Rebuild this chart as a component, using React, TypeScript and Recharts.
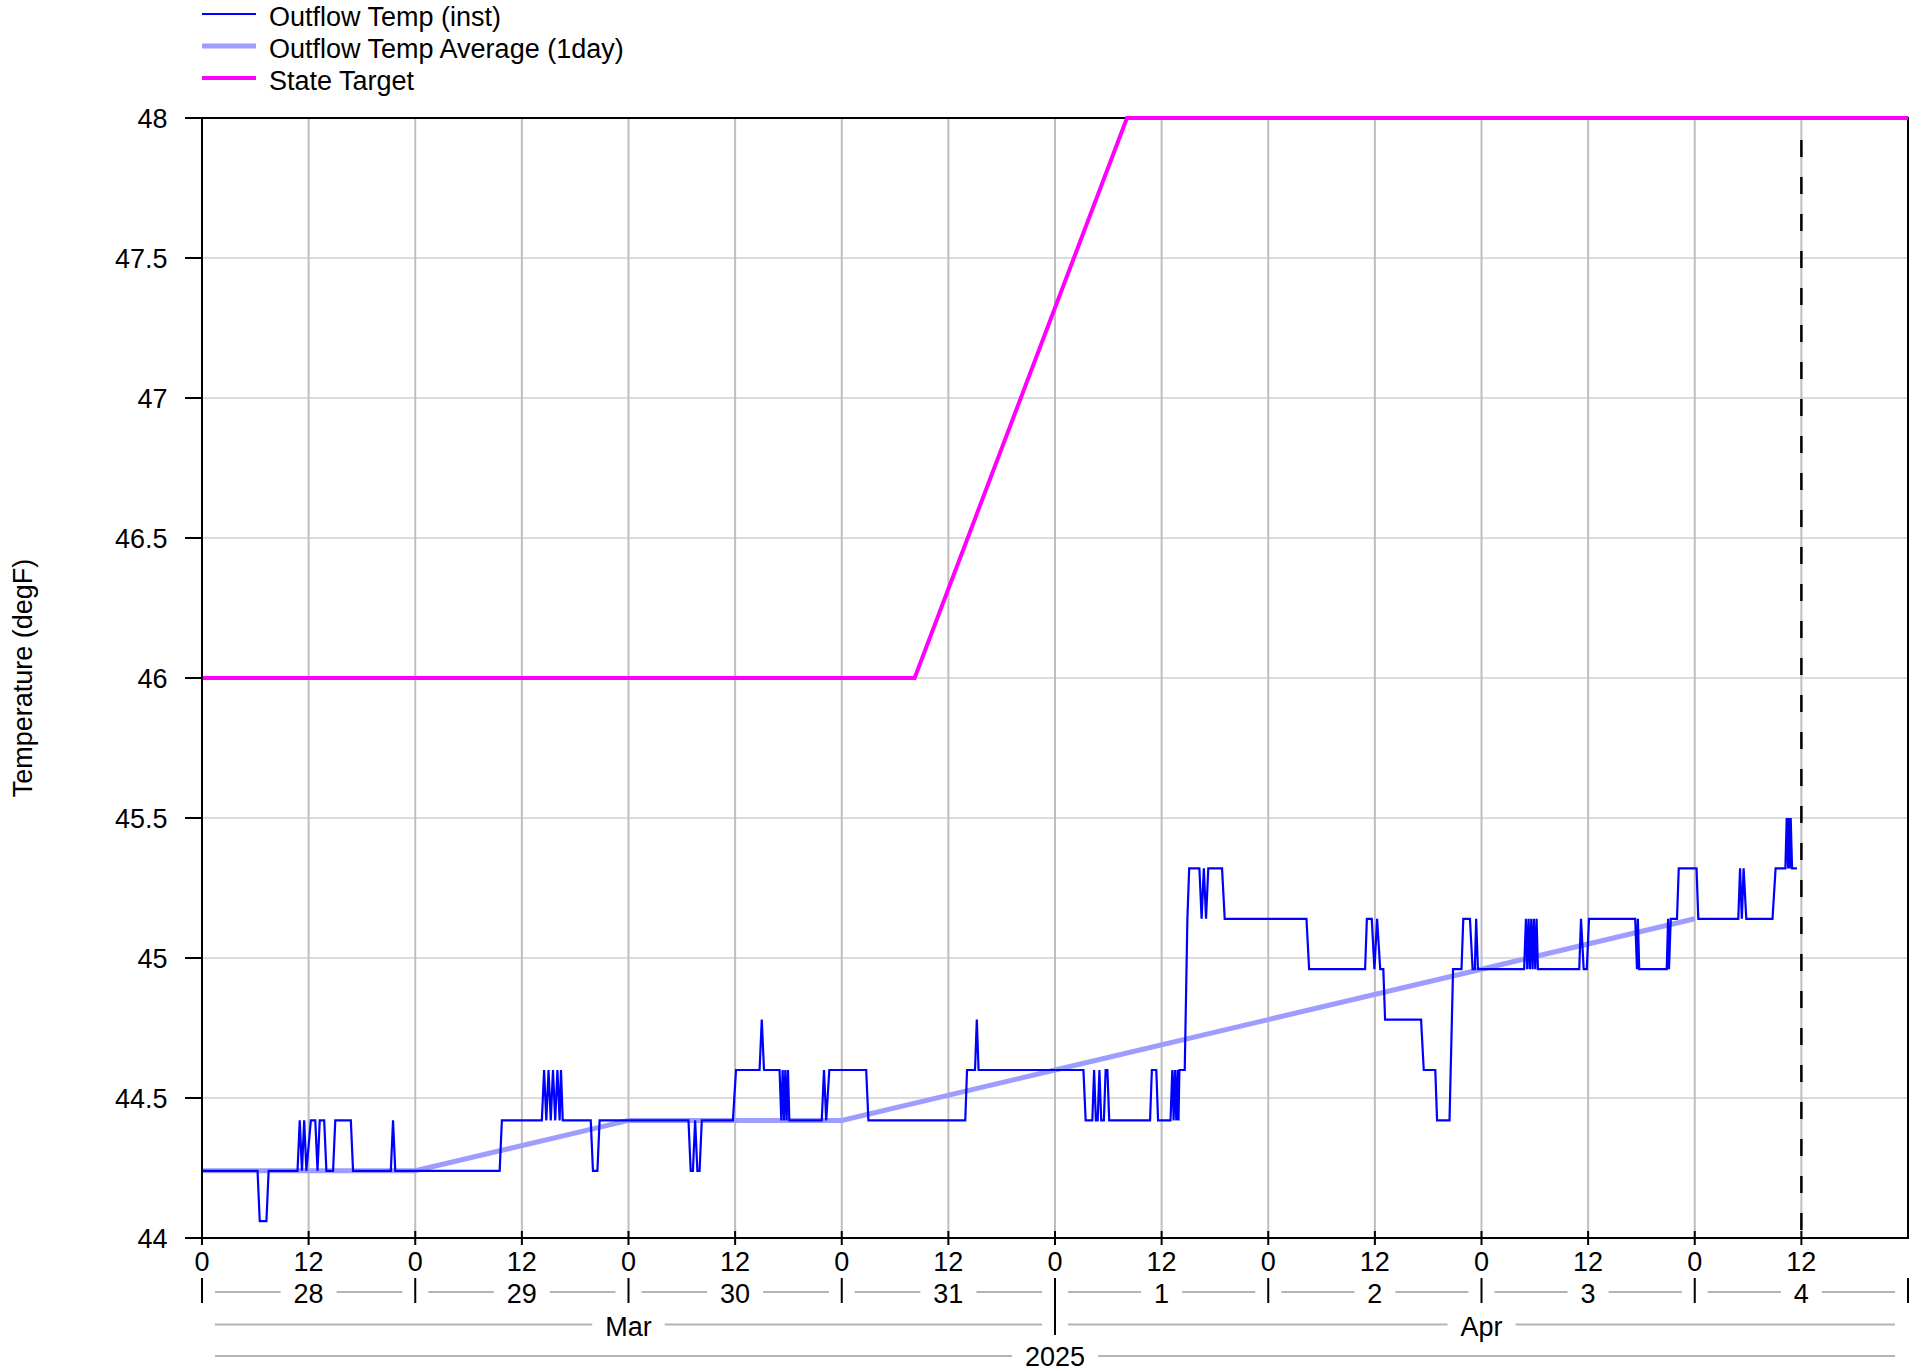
import React from "react";
import {
  LineChart,
  Line,
  XAxis,
  YAxis,
  CartesianGrid,
  ReferenceLine,
  ReferenceArea,
  Legend,
  Label,
} from "recharts";

// hours since 2025-03-28 00:00 -> degF
const instTemp: [number, number][] = [
  [0, 44.24], [6.25, 44.24], [6.5, 44.06], [7.25, 44.06], [7.5, 44.24],
  [10.75, 44.24], [11.0, 44.42], [11.25, 44.24], [11.5, 44.42], [11.75, 44.24],
  [12.25, 44.42], [12.75, 44.42], [13.0, 44.24], [13.25, 44.42], [13.75, 44.42], [14.0, 44.24],
  [14.75, 44.24], [15.0, 44.42], [16.75, 44.42], [17.0, 44.24],
  [21.25, 44.24], [21.5, 44.42], [21.75, 44.24],
  [33.5, 44.24], [33.75, 44.42],
  [38.25, 44.42], [38.5, 44.6], [38.75, 44.42], [39.0, 44.6], [39.25, 44.42], [39.5, 44.6],
  [39.75, 44.42], [40.0, 44.6], [40.25, 44.42], [40.4, 44.6], [40.6, 44.42],
  [43.75, 44.42], [44.0, 44.24], [44.5, 44.24], [44.75, 44.42],
  [54.75, 44.42], [55.0, 44.24], [55.25, 44.24], [55.5, 44.42], [55.75, 44.24], [56.0, 44.24], [56.25, 44.42],
  [59.75, 44.42], [60.1, 44.6],
  [62.75, 44.6], [63.0, 44.78], [63.25, 44.6],
  [65.0, 44.6], [65.2, 44.42], [65.35, 44.6], [65.5, 44.42], [65.65, 44.6], [65.8, 44.42],
  [65.95, 44.6], [66.1, 44.42],
  [69.75, 44.42], [70.0, 44.6], [70.25, 44.42], [70.6, 44.6],
  [74.75, 44.6], [75.0, 44.42],
  [85.9, 44.42], [86.1, 44.6],
  [87.0, 44.6], [87.2, 44.78], [87.4, 44.6],
  [99.2, 44.6], [99.45, 44.42], [100.2, 44.42], [100.4, 44.6], [100.6, 44.42], [100.8, 44.42],
  [101.0, 44.6], [101.2, 44.42], [101.5, 44.42], [101.7, 44.6], [101.9, 44.6], [102.1, 44.42],
  [106.7, 44.42], [106.9, 44.6], [107.4, 44.6], [107.6, 44.42], [109.0, 44.42], [109.2, 44.6],
  [109.35, 44.42], [109.5, 44.6], [109.65, 44.42], [109.8, 44.6], [109.9, 44.42], [110.0, 44.6],
  [110.6, 44.6], [110.9, 45.14], [111.1, 45.32],
  [112.25, 45.32], [112.5, 45.14], [112.75, 45.32], [113.0, 45.14], [113.25, 45.32],
  [114.8, 45.32], [115.1, 45.14],
  [124.3, 45.14], [124.6, 44.96],
  [130.9, 44.96], [131.1, 45.14], [131.65, 45.14], [131.95, 44.96], [132.25, 45.14], [132.6, 44.96],
  [132.95, 44.96], [133.15, 44.78],
  [137.2, 44.78], [137.5, 44.6], [138.8, 44.6], [139.0, 44.42], [140.4, 44.42], [140.8, 44.96],
  [141.75, 44.96], [141.95, 45.14], [142.7, 45.14], [143.0, 44.96], [143.25, 44.96], [143.4, 45.14],
  [143.6, 44.96],
  [148.8, 44.96], [149.0, 45.14], [149.15, 44.96], [149.3, 45.14], [149.45, 44.96], [149.6, 45.14],
  [149.75, 44.96], [149.9, 45.14], [150.05, 44.96], [150.2, 45.14], [150.35, 44.96],
  [155.0, 44.96], [155.2, 45.14], [155.5, 44.96], [155.85, 44.96], [156.1, 45.14],
  [161.3, 45.14], [161.5, 44.96], [161.6, 45.14], [161.75, 44.96],
  [164.85, 44.96], [165.0, 45.14], [165.1, 44.96], [165.3, 45.14], [166.0, 45.14], [166.2, 45.32],
  [168.2, 45.32], [168.4, 45.14],
  [172.9, 45.14], [173.1, 45.32], [173.3, 45.14], [173.5, 45.32], [173.8, 45.14],
  [176.75, 45.14], [177.1, 45.32],
  [178.2, 45.32], [178.35, 45.5], [178.5, 45.32], [178.6, 45.5], [178.7, 45.32], [178.8, 45.5],
  [178.95, 45.32], [179.5, 45.32],
];

const avgTemp: [number, number][] = [
  [0, 44.24], [24, 44.24], [48, 44.42], [72, 44.42], [96, 44.6], [120, 44.78], [144, 44.96], [168, 45.14],
];

const stateTarget: [number, number][] = [
  [0, 46], [80.2, 46], [104.1, 48], [192, 48],
];

const hourTicks = [0, 12, 24, 36, 48, 60, 72, 84, 96, 108, 120, 132, 144, 156, 168, 180, 192];
const dayLabels = ["28", "29", "30", "31", "1", "2", "3", "4"];
const monthLabels = [
  { name: "Mar", from: 0, to: 96 },
  { name: "Apr", from: 96, to: 192 },
];
const yearLabels = [{ name: "2025", from: 0, to: 192 }];
const tempTicks = [44, 44.5, 45, 45.5, 46, 46.5, 47, 47.5, 48];
const nowHour = 180;

const series = [
  { name: "Outflow Temp (inst)", color: "#0000ff", width: 2.2 },
  { name: "Outflow Temp Average (1day)", color: "#9d9dff", width: 5 },
  { name: "State Target", color: "#ff00ff", width: 4 },
];

const W = 1910;
const H = 1372;
const LEFT = 202;
const RIGHT = 2;
const TOP = 118;
const BOTTOM = 134;
const SPAN = 192;
const PPH = (W - LEFT - RIGHT) / SPAN;
const FONT = '"Liberation Sans", Arial, Helvetica, sans-serif';
const FS = 27;
const ROW_GRAY = "#b4b4b4";

const CHAR_W: Record<string, number> = { M: 0.833, a: 0.556, r: 0.333, A: 0.667, p: 0.556 };
const textW = (s: string) => [...s].reduce((w, c) => w + (CHAR_W[c] ?? 0.556), 0) * FS;

const toRows = (pts: [number, number][]) => pts.map(([t, v]) => ({ t, v }));

function Bracket({ cx, x0, x1, lineY, baseY, label }: any) {
  const half = textW(label) / 2;
  return (
    <g>
      <line x1={x0 + 13} x2={cx - half - 13} y1={lineY} y2={lineY} stroke={ROW_GRAY} strokeWidth={2} />
      <line x1={cx + half + 13} x2={x1 - 13} y1={lineY} y2={lineY} stroke={ROW_GRAY} strokeWidth={2} />
      <text x={cx} y={baseY} textAnchor="middle" fontSize={FS} fontFamily={FONT} fill="#000">
        {label}
      </text>
    </g>
  );
}

function TimeTick(props: any) {
  const { x, y, payload } = props;
  const t: number = payload.value;
  const parts: React.ReactNode[] = [];
  if (t < SPAN) {
    parts.push(<line key="mk" x1={x} x2={x} y1={y - 7} y2={y + 7} stroke="#000" strokeWidth={2} />);
    parts.push(
      <text key="hr" x={x} y={y + 33} textAnchor="middle" fontSize={FS} fontFamily={FONT} fill="#000">
        {t % 24}
      </text>
    );
  }
  if (t % 24 === 0) {
    const isMonthEdge = monthLabels.some((m) => m.from === t && t > 0);
    parts.push(
      <line key="sep" x1={x} x2={x} y1={y + 40} y2={isMonthEdge ? y + 97 : y + 65} stroke="#000" strokeWidth={2} />
    );
  }
  if (t % 24 === 12) {
    parts.push(
      <Bracket key="day" cx={x} x0={x - 12 * PPH} x1={x + 12 * PPH} lineY={y + 54} baseY={y + 64.5}
        label={dayLabels[(t - 12) / 24]} />
    );
  }
  monthLabels.forEach((m) => {
    if ((m.from + m.to) / 2 === t) {
      parts.push(
        <Bracket key={m.name} cx={x} x0={x - (t - m.from) * PPH} x1={x + (m.to - t) * PPH}
          lineY={y + 86.5} baseY={y + 97.5} label={m.name} />
      );
    }
  });
  yearLabels.forEach((yr) => {
    if ((yr.from + yr.to) / 2 === t) {
      parts.push(
        <Bracket key={yr.name} cx={x} x0={x - (t - yr.from) * PPH} x1={x + (yr.to - t) * PPH}
          lineY={y + 118} baseY={y + 127.5} label={yr.name} />
      );
    }
  });
  return <g>{parts}</g>;
}

function LegendBox() {
  return (
    <svg width={460} height={96}>
      {series.map((s, i) => (
        <g key={s.name}>
          <line x1={7} x2={61} y1={14 + 32 * i} y2={14 + 32 * i} stroke={s.color} strokeWidth={s.width} />
          <text x={74} y={17 + 32 * i} dominantBaseline="central" fontSize={FS} fontFamily={FONT} fill="#000">
            {s.name}
          </text>
        </g>
      ))}
    </svg>
  );
}

function YTitle() {
  const cy = TOP + (H - TOP - BOTTOM) / 2;
  return (
    <text x={23} y={cy} transform={`rotate(-90 23 ${cy})`} textAnchor="middle" dominantBaseline="central"
      fontSize={FS} fontFamily={FONT} fill="#000">
      Temperature (degF)
    </text>
  );
}

export default function App() {
  return (
    <div style={{ position: "absolute", left: 0, top: 0, width: W, height: H, background: "#fff" }}>
      <LineChart width={W} height={H} margin={{ top: TOP, right: RIGHT, bottom: 0, left: 0 }}>
        <CartesianGrid vertical={false} stroke="#dcdcdc" strokeWidth={2} />
        <CartesianGrid horizontal={false} stroke="#bebebe" strokeWidth={2} />
        <XAxis
          dataKey="t"
          type="number"
          domain={[0, SPAN]}
          ticks={hourTicks}
          interval={0}
          height={BOTTOM}
          tickSize={0}
          tickMargin={0}
          tickLine={false}
          axisLine={{ stroke: "#000", strokeWidth: 2 }}
          tick={(p: any) => <TimeTick {...p} />}
        />
        <YAxis
          type="number"
          domain={[44, 48]}
          ticks={tempTicks}
          interval={0}
          width={LEFT}
          tickSize={17}
          tickMargin={17.5}
          axisLine={{ stroke: "#000", strokeWidth: 2 }}
          tickLine={{ stroke: "#000", strokeWidth: 2 }}
          tick={{ fill: "#000", fontSize: FS, fontFamily: FONT }}
        >
          <Label content={() => <YTitle />} />
        </YAxis>
        <ReferenceArea x1={0} x2={SPAN} y1={44} y2={48} fill="none" stroke="#000" strokeWidth={2} />
        <ReferenceLine x={nowHour} stroke="#000" strokeWidth={2.5} strokeDasharray="17 20" strokeDashoffset={-8} />
        <Line
          data={toRows(avgTemp)}
          dataKey="v"
          name={series[1].name}
          type="linear"
          stroke={series[1].color}
          strokeWidth={series[1].width}
          dot={false}
          isAnimationActive={false}
        />
        <Line
          data={toRows(instTemp)}
          dataKey="v"
          name={series[0].name}
          type="linear"
          stroke={series[0].color}
          strokeWidth={series[0].width}
          dot={false}
          isAnimationActive={false}
        />
        <Line
          data={toRows(stateTarget)}
          dataKey="v"
          name={series[2].name}
          type="linear"
          stroke={series[2].color}
          strokeWidth={series[2].width}
          dot={false}
          isAnimationActive={false}
        />
        <Legend
          layout="horizontal"
          verticalAlign="middle"
          align="center"
          wrapperStyle={{ left: 195, top: 0, width: 460, height: 96 }}
          content={() => <LegendBox />}
        />
      </LineChart>
    </div>
  );
}
